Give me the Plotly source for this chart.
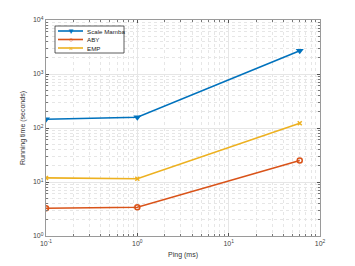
import plotly.graph_objects as go

ping = [0.1, 1, 60]
scale_mamba = [145, 158, 2700]
aby = [3.26, 3.4, 25]
emp = [11.9, 11.5, 122]
names = ["Scale Mamba", "ABY", "EMP"]
colors = ["#0072BD", "#D95319", "#EDB120"]

x_tickvals = [0.1, 1, 10, 100]
x_ticktext = ["10<sup>-1</sup>", "10<sup>0</sup>", "10<sup>1</sup>", "10<sup>2</sup>"]
y_tickvals = [1, 10, 100, 1000, 10000]
y_ticktext = ["10<sup>0</sup>", "10<sup>1</sup>", "10<sup>2</sup>", "10<sup>3</sup>", "10<sup>4</sup>"]

x_minor = [m * 10 ** e for e in range(-1, 2) for m in range(2, 10)]
y_minor = [m * 10 ** e for e in range(0, 4) for m in range(2, 10)]

fig = go.Figure()
fig.add_trace(go.Scatter(x=ping, y=scale_mamba, name=names[0], mode="lines+markers",
                         line=dict(color=colors[0], width=1.6),
                         marker=dict(symbol="triangle-down", size=7, color=colors[0])))
fig.add_trace(go.Scatter(x=ping, y=aby, name=names[1], mode="lines+markers",
                         line=dict(color=colors[1], width=1.6),
                         marker=dict(symbol="circle-open", size=5, color=colors[1], line=dict(width=1.5))))
fig.add_trace(go.Scatter(x=ping, y=emp, name=names[2], mode="lines+markers",
                         line=dict(color=colors[2], width=1.6),
                         marker=dict(symbol="x-thin-open", size=4, color=colors[2], line=dict(width=1.5, color=colors[2]))))

def axis(minor_vals):
    return dict(
        type="log", showline=True, linecolor="#9a9a9a", linewidth=1.2, mirror="ticks",
        ticks="inside", ticklen=3, tickcolor="#555", automargin=False,
        showgrid=True, gridcolor="#e6e6e6", gridwidth=1,
        minor=dict(tickvals=minor_vals, showgrid=True, gridcolor="#e6e6e6", griddash="dot",
                   ticks="inside", ticklen=2, tickcolor="#777"),
        tickfont=dict(size=7, color="#444", family="Liberation Sans, Arial"),
        zeroline=False,
    )

# custom compact legend (paper coordinates)
lx0, lx1, ly0, ly1 = 55, 124, 26, 53
W, H = 355, 266
ml, mr, mt, mb = 46, 35, 20, 30
pw, ph = W - ml - mr, H - mt - mb

def px(x):
    return (x - ml) / pw

def py(y):
    return 1 - (y - mt) / ph

shapes = [dict(type="rect", xref="paper", yref="paper", x0=px(lx0), x1=px(lx1), y0=py(ly1), y1=py(ly0),
               line=dict(color="#333", width=0.8), fillcolor="white", layer="above")]
annotations = []
glyphs = ["▼", "○", "×"]
for i, (n, c, g) in enumerate(zip(names, colors, glyphs)):
    yy = 31 + i * 8.5
    shapes.append(dict(type="line", xref="paper", yref="paper", x0=px(58), x1=px(83), y0=py(yy), y1=py(yy),
                       line=dict(color=c, width=1.6), layer="above"))
    annotations.append(dict(xref="paper", yref="paper", x=px(70.5), y=py(yy), text=g, showarrow=False,
                            font=dict(size=7 if i else 8, color=c), xanchor="center", yanchor="middle"))
    annotations.append(dict(xref="paper", yref="paper", x=px(85), y=py(yy), text=n, showarrow=False,
                            font=dict(size=6.2, color="#222"), xanchor="left", yanchor="middle"))

fig.update_layout(
    width=W, height=H,
    margin=dict(l=ml, r=mr, t=mt, b=mb),
    paper_bgcolor="white", plot_bgcolor="white",
    font=dict(family="Liberation Sans, Arial", size=7, color="#333"),
    showlegend=False,
    shapes=shapes, annotations=annotations,
    xaxis=dict(axis(x_minor), range=[-1, 2], tickvals=x_tickvals, ticktext=x_ticktext,
               title=dict(text="Ping (ms)", font=dict(size=7, color="#333"), standoff=6)),
    yaxis=dict(axis(y_minor), range=[0, 4], tickvals=y_tickvals, ticktext=y_ticktext,
               title=dict(text="Running time (seconds)", font=dict(size=7, color="#333"), standoff=6)),
)

fig.write_html("out.html", config={"displayModeBar": False},
               post_script="document.body.style.margin='0';")
